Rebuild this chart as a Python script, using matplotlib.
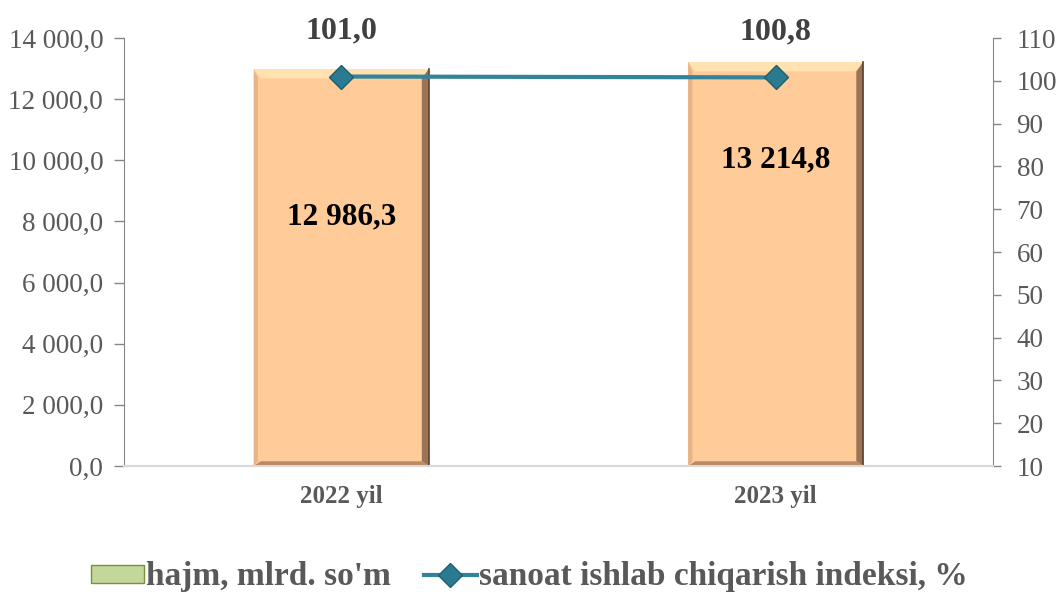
import numpy as np
import matplotlib.pyplot as plt
from matplotlib.patches import Polygon, Patch
from matplotlib.lines import Line2D

years = ['2022 yil', '2023 yil']
hajm = [12986.3, 13214.8]
hajm_labels = ['12 986,3', '13 214,8']
indeks = [101.0, 100.8]
indeks_labels = ['101,0', '100,8']

plt.rcParams['font.family'] = ['Liberation Serif', 'DejaVu Serif']
grey = '#595959'
teal = '#31849B'

fig = plt.figure(figsize=(10.58, 5.94), dpi=100)
ax = fig.add_axes([124/1058, 1-466/594, (993-124)/1058, (466-38)/594])
ax2 = ax.twinx()

x = np.arange(len(years))
bars = ax.bar(x, hajm, width=0.403, color='#FFCC99', edgecolor='none', zorder=2)
# bevel shading on the bars
for b in bars:
    x0, y0, w, h = b.get_x(), b.get_y(), b.get_width(), b.get_height()
    dx = w*0.04
    dy = 14000*0.011
    top = y0 + h
    ax.add_patch(Polygon([[x0, top], [x0+w, top], [x0+w-dx, top-2*dy], [x0+dx, top-2*dy]],
                         closed=True, color='#FFE2B0', zorder=3, lw=0))
    ax.add_patch(Polygon([[x0+w, top], [x0+w, y0], [x0+w-dx, y0+dy], [x0+w-dx, top-2*dy]],
                         closed=True, color='#9A7456', zorder=3, lw=0))
    ax.add_patch(Polygon([[x0, y0], [x0+w, y0], [x0+w-dx, y0+dy], [x0+dx, y0+dy]],
                         closed=True, color='#B88A66', zorder=3, lw=0))
    ax.add_patch(Polygon([[x0, top], [x0, y0], [x0+dx*0.6, y0+dy], [x0+dx*0.6, top-2*dy]],
                         closed=True, color='#E8B487', zorder=3, lw=0))
    ax.plot([x0+w, x0+w], [y0, top], color='#5A4030', lw=1.2, zorder=4)

ax.set_xlim(-0.5, 1.5)
ax.set_ylim(0, 14000)
ticks_l = np.arange(0, 14001, 2000)
ax.set_yticks(ticks_l)
ax.set_yticklabels([f'{int(v):,}'.replace(',', ' ') + ',0' for v in ticks_l])
ax.set_xticks(x)
ax.set_xticklabels(years, fontsize=18, fontweight='bold', color=grey)
ax.tick_params(axis='x', length=0, pad=14)
ax.tick_params(axis='y', colors='#868686', labelsize=19.5, length=7, width=1, direction='out', pad=8)

ax2.set_ylim(10, 110)
ax2.set_yticks(np.arange(10, 111, 10))
ax2.tick_params(axis='y', colors='#868686', labelsize=19.5, length=6, width=1, direction='out', pad=11)
for a in (ax, ax2):
    a.spines['top'].set_visible(False)
    a.spines['left'].set_color('#868686')
    a.spines['right'].set_color('#868686')
    a.spines['bottom'].set_color('#D9D9D9')
    a.spines['bottom'].set_linewidth(1.5)
ax2.spines['left'].set_visible(False)
ax.spines['right'].set_visible(False)
for t in ax.get_yticklabels() + ax2.get_yticklabels():
    t.set_color(grey)

ax2.plot(x, indeks, color=teal, lw=3, marker='D', markersize=12,
         markerfacecolor='#2A7A90', markeredgecolor='#1F5F70', zorder=5)

for xi, v, lab in zip(x, indeks, indeks_labels):
    ax2.annotate(lab, (xi, v), xytext=(0, 33), textcoords='offset points',
                 ha='center', va='center', fontsize=23, fontweight='bold', color='#404040')
# bar labels sit well inside the bars, as in the source chart
lab_shift = [-4840, -3200]
for xi, v, s, lab in zip(x, hajm, lab_shift, hajm_labels):
    ax.text(xi, v + s, lab, ha='center', va='center',
            fontsize=22.5, fontweight='bold', color='black', zorder=6)

h1 = Patch(facecolor='#C4D79B', edgecolor='#76923C', label="hajm, mlrd. so'm")
h2 = Line2D([0], [0], color=teal, lw=3, marker='D', markersize=12,
            markerfacecolor='#2A7A90', markeredgecolor='#1F5F70',
            label='sanoat ishlab chiqarish indeksi, %')
leg = fig.legend(handles=[h1, h2], loc='center', bbox_to_anchor=(0.5, 1-577/594), ncol=2,
                 frameon=False, handlelength=1.6, handleheight=0.45, columnspacing=1.0,
                 handletextpad=0.05, prop={'size': 24, 'weight': 'bold'})
for t in leg.get_texts():
    t.set_color(grey)

fig.savefig('out.png', dpi=100)
